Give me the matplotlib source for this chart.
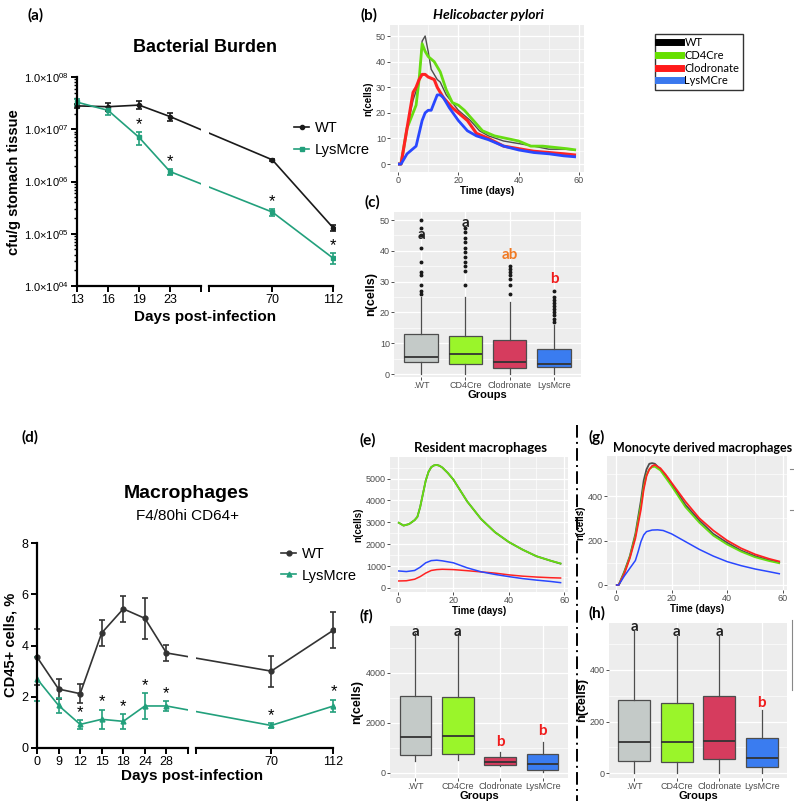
import matplotlib
matplotlib.use("Agg")
import matplotlib.pyplot as plt
from matplotlib.lines import Line2D

plt.rcParams["font.family"] = ["Liberation Sans", "DejaVu Sans"]
LABEL_FONT = ["Lato", "DejaVu Sans"]

# ---------------- data ----------------
# (a) bacterial burden
days_a = [13, 16, 19, 23, 70, 112]
wt_a = [2.8e7, 2.7e7, 2.9e7, 1.75e7, 2.6e6, 1.3e5]
wt_a_err = [3e6, 5e6, 5e6, 3e6, 1e5, 1.5e4]
lys_a = [3.3e7, 2.3e7, 7.0e6, 1.55e6, 2.6e5, 3.4e4]
lys_a_err = [5e6, 4e6, 2e6, 2e5, 4e4, 8e3]
star_a = [False, False, True, True, True, True]

# (d) macrophages
days_d = [0, 9, 12, 15, 18, 24, 28, 70, 112]
wt_d = [3.55, 2.3, 2.12, 4.49, 5.43, 5.06, 3.71, 3.0, 4.6]
wt_d_err = [1.1, 0.4, 0.37, 0.5, 0.52, 0.8, 0.3, 0.6, 0.7]
lys_d = [2.7, 1.66, 0.92, 1.12, 1.04, 1.64, 1.64, 0.88, 1.64]
lys_d_err = [0.85, 0.3, 0.18, 0.38, 0.3, 0.5, 0.2, 0.1, 0.25]
star_d = [False, False, True, True, True, True, True, True, True]

# (b) H. pylori simulation
hp_wt_t = [0, 1, 3, 5, 7, 8, 9, 10, 11, 13, 14, 16, 18, 20, 22, 24, 27, 30, 35, 40, 45, 50, 55, 59]
hp_wt = [0, 0, 14, 25, 32, 48, 50, 44, 37, 33, 32, 27, 24, 21, 19, 17, 13, 11, 9, 8, 7, 5.8, 5.8, 5.5]
hp_cd4_t = [0, 1, 3, 5, 6, 7, 8, 9, 10, 12, 14, 16, 18, 20, 22, 25, 28, 32, 36, 40, 44, 48, 52, 56, 59]
hp_cd4 = [0, 0, 14, 20, 23, 33, 47, 44, 42, 40, 36, 29, 24, 23, 21, 17, 13, 11, 10, 9, 7, 7, 6.5, 6, 5.5]
hp_clo_t = [0, 1, 3, 5, 6, 7, 8, 9, 10, 12, 13, 15, 18, 20, 23, 26, 30, 35, 40, 45, 50, 55, 59]
hp_clo = [0, 0, 14, 28, 30, 33, 35, 35, 34, 33, 30, 26, 22, 20, 17, 12, 10, 7, 6, 5, 4.5, 4, 3.5]
hp_lys_t = [0, 1, 2, 3, 5, 6, 7, 8, 9, 10, 11, 12, 13, 14, 15, 17, 20, 23, 26, 30, 35, 40, 45, 50, 55, 59]
hp_lys = [0, 0, 2, 4, 6, 7, 12, 17, 20, 21, 21, 24, 27, 27, 26, 22, 17, 13, 11, 9.5, 7, 5.5, 4.5, 4, 3.2, 2.8]

# (c) H. pylori boxplots
groups_c = [".WT", "CD4Cre", "Clodronate", "LysMcre"]
q1_c = [4.0, 3.2, 2.0, 2.3]
med_c = [5.6, 6.5, 4.0, 3.3]
q3_c = [12.9, 12.3, 11.2, 8.2]
lo_c = [0, 0, 0, 0]
hi_c = [24.9, 25, 23.5, 16]
fliers_c = [
    [26, 27, 29, 32, 33, 36.5, 41, 45, 47.5, 50],
    [29, 33.5, 35, 36.5, 38, 39.5, 41, 43, 44, 46, 47.5],
    [26, 29, 31, 32, 33, 34, 35],
    [17, 18, 19, 20, 21, 22, 23, 24, 25, 27],
]
letters_c = ["a", "a", "ab", "b"]
letter_y_c = [45, 49, 38.6, 31]

# (e) resident macrophages
t_e = [0, 2, 4, 6, 7, 8, 9, 10, 11, 12, 13, 14, 15, 16, 18, 20, 25, 30, 35, 40, 45, 50, 55, 59]
res_wt = [3000, 2850, 2920, 3100, 3250, 3700, 4300, 4900, 5300, 5520, 5600, 5620, 5580, 5500,
          5250, 4950, 3950, 3150, 2550, 2100, 1750, 1450, 1250, 1100]
res_cd4 = [3000, 2850, 2920, 3100, 3250, 3700, 4300, 4900, 5300, 5520, 5600, 5620, 5580, 5500,
           5250, 4950, 3950, 3150, 2550, 2100, 1750, 1450, 1250, 1110]
t_e2 = [0, 3, 6, 8, 10, 12, 14, 16, 20, 25, 30, 35, 40, 45, 50, 55, 59]
res_clo = [320, 330, 400, 520, 680, 800, 840, 855, 840, 790, 735, 680, 600, 540, 500, 470, 455]
res_lys = [780, 750, 800, 950, 1150, 1250, 1270, 1240, 1150, 920, 740, 620, 520, 430, 360, 300, 240]

# (f) resident macrophage boxplots
groups_fh = [".WT", "CD4Cre", "Clodronate", "LysMCre"]
q1_f = [720, 760, 320, 120]
med_f = [1450, 1480, 440, 360]
q3_f = [3100, 3040, 640, 760]
lo_f = [480, 520, 280, 40]
hi_f = [5600, 5600, 840, 1240]
letters_f = ["a", "a", "b", "b"]
letter_y_f = [5640, 5640, 1240, 1680]

# (g) monocyte derived macrophages
t_g = [0, 1, 3, 5, 7, 9, 10, 11, 12, 13, 14, 16, 18, 20, 25, 30, 35, 40, 45, 50, 55, 59]
mono_wt = [0, 0, 60, 130, 230, 380, 470, 520, 545, 548, 545, 520, 490, 455, 360, 290, 230, 190, 155, 130, 112, 100]
mono_cd4 = [0, 0, 55, 125, 220, 360, 440, 495, 520, 530, 532, 515, 480, 445, 350, 280, 222, 182, 150, 125, 108, 97]
mono_clo = [0, 0, 50, 120, 210, 340, 430, 490, 520, 535, 540, 525, 495, 460, 375, 300, 245, 200, 165, 138, 118, 105]
t_g2 = [0, 1, 3, 5, 7, 8, 9, 10, 11, 13, 15, 17, 20, 25, 30, 35, 40, 45, 50, 55, 59]
mono_lys = [0, 0, 40, 75, 110, 150, 195, 225, 240, 247, 248, 245, 230, 195, 160, 130, 105, 87, 72, 60, 50]

# (h) monocyte derived boxplots
q1_h = [45, 44, 54, 23]
med_h = [119, 120, 126, 60]
q3_h = [282, 272, 300, 138]
lo_h = [0, 0, 0, 0]
hi_h = [550, 532, 532, 246]
letters_h = ["a", "a", "a", "b"]
letter_y_h = [567, 548, 548, 272]

# ---------------- style ----------------
W, H = 794, 801
BLACK = "#1a1a1a"
TEAL = "#22a07c"
SIM_COLORS = {"WT": "#4d4d4d", "CD4Cre": "#66dd11", "Clodronate": "#ff2222", "LysMCre": "#2947ff"}
BOX_COLORS = ["#c4cac8", "#9af52a", "#d63c5e", "#3a7cf0"]
LETTER_COLORS = {"a": "#222222", "ab": "#f07a24", "b": "#f01c1c"}

fig = plt.figure(figsize=(W / 100, H / 100), dpi=100)


def px_axes(l, t, r, b):
    return fig.add_axes([l / W, 1 - b / H, (r - l) / W, (b - t) / H])


def ftext(x, y, s, **kw):
    kw.setdefault("ha", "center")
    kw.setdefault("va", "center")
    fig.text(x / W, 1 - y / H, s, **kw)


def prism_axes(ax, first):
    for side in ("top", "right"):
        ax.spines[side].set_visible(False)
    ax.spines["bottom"].set_linewidth(1.6)
    ax.spines["left"].set_linewidth(1.6)
    if first:
        ax.spines["left"].set_position(("data", 0))
    else:
        ax.spines["left"].set_visible(False)
        ax.tick_params(axis="y", which="both", left=False, labelleft=False)
    ax.tick_params(which="major", width=1.4, length=4, labelsize=9, pad=2)
    ax.tick_params(which="minor", width=1.0, length=2.5)
    ax.patch.set_alpha(0)


def draw_series(ax, pos, vals, errs, color, marker, ms):
    ax.errorbar(pos, vals, yerr=errs, color=color, marker=marker, ms=ms,
                lw=1.2, elinewidth=1.2, capsize=2.3, capthick=1.2)


def draw_stars(axL, axR, pos, vals, errs, flags, brk):
    for p, v, e, f in zip(pos, vals, errs, flags):
        if not f:
            continue
        ax = axL if p < brk else axR
        ax.annotate("*", (p, v + e), xytext=(0, 0), textcoords="offset points",
                    ha="center", va="bottom", fontsize=12, annotation_clip=False)


# ---------------- (a) ----------------
pos_a = [0, 1, 2, 3, 6.3, 8.26]
aL = px_axes(72.4, 77, 201, 286)
aR = px_axes(209, 77, 335, 286)
for ax, first in ((aL, True), (aR, False)):
    ax.set_yscale("log")
    ax.set_ylim(1e4, 1e8)
    prism_axes(ax, first)
    draw_series(ax, pos_a, wt_a, wt_a_err, BLACK, "o", 3)
    draw_series(ax, pos_a, lys_a, lys_a_err, TEAL, "s", 3)
aL.set_xlim(-0.15, 4.0)
aR.set_xlim(4.26, 8.32)
aL.spines["bottom"].set_bounds(0, 4.0)
aR.spines["bottom"].set_bounds(4.26, 8.26)
aL.set_xticks(pos_a[:4] + [4.0], [str(d) for d in days_a[:4]] + [""])
aR.set_xticks([4.26] + pos_a[4:], [""] + [str(d) for d in days_a[4:]])
ydec = [1e4, 1e5, 1e6, 1e7, 1e8]
aL.set_yticks(ydec, [r"1.0×10$^{\mathregular{0%d}}$" % k for k in range(4, 9)])
aL.tick_params(axis="y", labelsize=8)
draw_stars(aL, aR, pos_a, lys_a, lys_a_err, star_a, 4.0)
aR.legend([Line2D([], [], color=BLACK, marker="o", ms=3, lw=1.2),
           Line2D([], [], color=TEAL, marker="s", ms=3, lw=1.2)],
          ["WT", "LysMcre"], loc="upper left", bbox_to_anchor=(287 / W, 1 - 114 / H),
          bbox_transform=fig.transFigure, frameon=False, fontsize=10.5,
          handlelength=1.0, handletextpad=0.4, labelspacing=0.55, borderpad=0)
ftext(205, 48, "Bacterial Burden", fontsize=13, weight="bold")
ftext(14, 182, "cfu/g stomach tissue", rotation=90, fontsize=10.5, weight="bold")
ftext(205, 317, "Days post-infection", fontsize=11, weight="bold")

# ---------------- (d) ----------------
pos_d = [0, 1, 2, 3, 4, 5, 6, 10.9, 13.8]
dL = px_axes(32.7, 543, 188, 748)
dR = px_axes(196, 543, 335, 748)
for ax, first in ((dL, True), (dR, False)):
    ax.set_ylim(0, 8)
    prism_axes(ax, first)
    draw_series(ax, pos_d, wt_d, wt_d_err, "#333333", "o", 3.5)
    draw_series(ax, pos_d, lys_d, lys_d_err, TEAL, "^", 3.5)
dL.set_xlim(-0.2, 7.0)
dR.set_xlim(7.4, 13.87)
dL.spines["bottom"].set_bounds(0, 7.0)
dR.spines["bottom"].set_bounds(7.4, 13.8)
dL.set_xticks(pos_d[:7] + [7.0], [str(d) for d in days_d[:7]] + [""])
dR.set_xticks([7.4] + pos_d[7:], [""] + [str(d) for d in days_d[7:]])
dL.set_yticks([0, 2, 4, 6, 8])
draw_stars(dL, dR, pos_d, lys_d, lys_d_err, star_d, 7.0)
dR.legend([Line2D([], [], color="#333333", marker="o", ms=3.5, lw=1.2),
           Line2D([], [], color=TEAL, marker="^", ms=3.5, lw=1.2)],
          ["WT", "LysMcre"], loc="upper left", bbox_to_anchor=(274 / W, 1 - 540 / H),
          bbox_transform=fig.transFigure, frameon=False, fontsize=10.5,
          handlelength=1.0, handletextpad=0.4, labelspacing=0.5, borderpad=0)
ftext(187, 494, "Macrophages", fontsize=14, weight="bold")
ftext(187, 516, "F4/80hi CD64+", fontsize=11)
ftext(11, 645, "CD45+ cells, %", rotation=90, fontsize=10.5, weight="bold")
ftext(192, 776, "Days post-infection", fontsize=11, weight="bold")


# ---------------- ggplot-like panels ----------------
def gg_axes(ax, xlim, ylim, xmaj, ymaj, xmin=None, ymin=None):
    ax.set_facecolor("#ededed")
    for s in ax.spines.values():
        s.set_visible(False)
    ax.set_xlim(*xlim)
    ax.set_ylim(*ylim)
    ax.set_xticks(xmaj)
    ax.set_yticks(ymaj)
    if xmin is not None:
        ax.set_xticks(xmin, minor=True)
    if ymin is not None:
        ax.set_yticks(ymin, minor=True)
    ax.grid(which="major", color="white", lw=0.9)
    ax.grid(which="minor", color="white", lw=0.45)
    ax.set_axisbelow(True)
    ax.tick_params(which="major", length=2, width=0.6, color="#333333",
                   labelsize=6.5, labelcolor="#4d4d4d", pad=1)
    ax.tick_params(which="minor", length=0)


def sim_lines(ax, series, lws):
    for (t, y, key), lw in zip(series, lws):
        ax.plot(t, y, color=SIM_COLORS[key], lw=lw, solid_capstyle="butt")


def box_panel(ax, q1, med, q3, lo, hi, fliers, letters, letter_y, labels, lsize):
    stats = []
    for i in range(4):
        stats.append(dict(q1=q1[i], med=med[i], q3=q3[i], whislo=lo[i], whishi=hi[i],
                          fliers=fliers[i] if fliers else []))
    bp = ax.bxp(stats, positions=[1, 2, 3, 4], widths=0.75, patch_artist=True,
                showcaps=False, showfliers=True, manage_ticks=False,
                boxprops=dict(edgecolor="#4d4d4d", lw=0.9),
                whiskerprops=dict(color="#4d4d4d", lw=0.9),
                medianprops=dict(color="#333333", lw=1.3),
                flierprops=dict(marker="o", ms=1.8, mfc="#1a1a1a", mec="#1a1a1a"))
    for patch, c in zip(bp["boxes"], BOX_COLORS):
        patch.set_facecolor(c)
    for i, (s, y) in enumerate(zip(letters, letter_y)):
        ax.text(i + 1, y, s, ha="center", va="center", fontsize=lsize, weight="bold",
                color=LETTER_COLORS[s], family=LABEL_FONT)
    ax.set_xticks([1, 2, 3, 4], labels)


# (b)
b = px_axes(390, 25, 584, 172)
gg_axes(b, (-2.65, 61.65), (-3.1, 54.3), [0, 20, 40, 60], [0, 10, 20, 30, 40, 50],
        [10, 30, 50], [5, 15, 25, 35, 45])
sim_lines(b, [(hp_wt_t, hp_wt, "WT"), (hp_cd4_t, hp_cd4, "CD4Cre"),
              (hp_clo_t, hp_clo, "Clodronate"), (hp_lys_t, hp_lys, "LysMCre")],
          [1.0, 2.0, 2.2, 2.0])
b.set_xlabel("Time (days)", fontsize=7, weight="bold", labelpad=0.5)
b.set_ylabel("n(cells)", fontsize=7, weight="bold", labelpad=2)
ftext(488, 15, "Helicobacter pylori", fontsize=10, weight="bold", style="italic",
      family=LABEL_FONT)

# (c)
c = px_axes(394, 212, 581, 377)
gg_axes(c, (0.39, 4.61), (-0.97, 52.6), [1, 2, 3, 4], [0, 10, 20, 30, 40, 50],
        None, [5, 15, 25, 35, 45])
box_panel(c, q1_c, med_c, q3_c, lo_c, hi_c, fliers_c, letters_c, letter_y_c, groups_c, 11)
c.set_xlabel("Groups", fontsize=8, weight="bold", labelpad=0)
c.set_ylabel("n(cells)", fontsize=9, weight="bold", labelpad=2)

# (e)
e = px_axes(390, 457, 568, 592)
gg_axes(e, (-2.9, 61.4), (-183, 5982), [0, 20, 40, 60], [0, 1000, 2000, 3000, 4000, 5000],
        [10, 30, 50], [500, 1500, 2500, 3500, 4500, 5500])
sim_lines(e, [(t_e, res_wt, "WT"), (t_e, res_cd4, "CD4Cre"),
              (t_e2, res_clo, "Clodronate"), (t_e2, res_lys, "LysMCre")],
          [1.3, 1.3, 1.1, 1.1])
e.set_xlabel("Time (days)", fontsize=7, weight="bold", labelpad=0.5)
e.set_ylabel("n(cells)", fontsize=7, weight="bold", labelpad=2)
ftext(480, 448, "Resident macrophages", fontsize=9.5, weight="bold", family=LABEL_FONT)

# (f)
f = px_axes(390, 626, 568, 778)
gg_axes(f, (0.4, 4.6), (-200, 5880), [1, 2, 3, 4], [0, 2000, 4000],
        None, [1000, 3000, 5000])
box_panel(f, q1_f, med_f, q3_f, lo_f, hi_f, None, letters_f, letter_y_f, groups_fh, 11)
f.set_xlabel("Groups", fontsize=8, weight="bold", labelpad=0)
f.set_ylabel("n(cells)", fontsize=9, weight="bold", labelpad=2)

# (g)
g = px_axes(607, 456, 787, 590)
gg_axes(g, (-3.2, 61.5), (-22.5, 580), [0, 20, 40, 60], [0, 200, 400],
        [10, 30, 50], [100, 300, 500])
sim_lines(g, [(t_g, mono_wt, "WT"), (t_g, mono_cd4, "CD4Cre"),
              (t_g, mono_clo, "Clodronate"), (t_g2, mono_lys, "LysMCre")],
          [1.3, 1.3, 1.3, 1.1])
g.set_xlabel("Time (days)", fontsize=7, weight="bold", labelpad=0.5)
g.set_ylabel("n(cells)", fontsize=7, weight="bold", labelpad=2)
ftext(703, 448, "Monocyte derived macrophages", fontsize=9, weight="bold",
      family=LABEL_FONT)

# (h)
h = px_axes(609, 623, 787, 778)
gg_axes(h, (0.41, 4.59), (-19, 582), [1, 2, 3, 4], [0, 200, 400],
        None, [100, 300, 500])
box_panel(h, q1_h, med_h, q3_h, lo_h, hi_h, None, letters_h, letter_y_h, groups_fh, 11)
h.set_xlabel("Groups", fontsize=8, weight="bold", labelpad=0)
h.set_ylabel("n(cells)", fontsize=9, weight="bold", labelpad=1)

# shared legend for simulation panels
fig.legend([Line2D([], [], color=col, lw=5) for col in
            ["#000000", "#66e000", "#ff1a1a", "#3a78ee"]],
           ["WT", "CD4Cre", "Clodronate", "LysMCre"], loc="upper left",
           bbox_to_anchor=(655 / W, 1 - 34 / H), frameon=True, fancybox=False,
           edgecolor="black", prop=dict(family=LABEL_FONT, size=8),
           handlelength=2.0, handletextpad=0.35, labelspacing=0.15,
           borderpad=0.3, borderaxespad=0)

# panel letters
for s, x, y in [("(a)", 36, 15), ("(b)", 369, 15), ("(c)", 372, 202), ("(d)", 30, 437),
                ("(e)", 368, 440), ("(f)", 366, 616), ("(g)", 597, 437), ("(h)", 597, 613)]:
    ftext(x, y, s, fontsize=11, weight="bold", family=LABEL_FONT)

# dash-dot divider between (e,f) and (g,h)
fig.add_artist(Line2D([577 / W, 577 / W], [1 - 425 / H, 0], transform=fig.transFigure,
                      color="black", lw=1.4, linestyle=(0, (6.5, 2.2, 1, 2.2))))

# cut-off legend remnants at the right edge
fig.add_artist(Line2D([792 / W, 792 / W], [1 - 620 / H, 1 - 690 / H],
                      transform=fig.transFigure, color="#888888", lw=0.8))
for yy in (469, 510):
    fig.add_artist(Line2D([790 / W, 794 / W], [1 - yy / H, 1 - yy / H],
                          transform=fig.transFigure, color="#888888", lw=0.8))

fig.savefig("out.png", dpi=100)
